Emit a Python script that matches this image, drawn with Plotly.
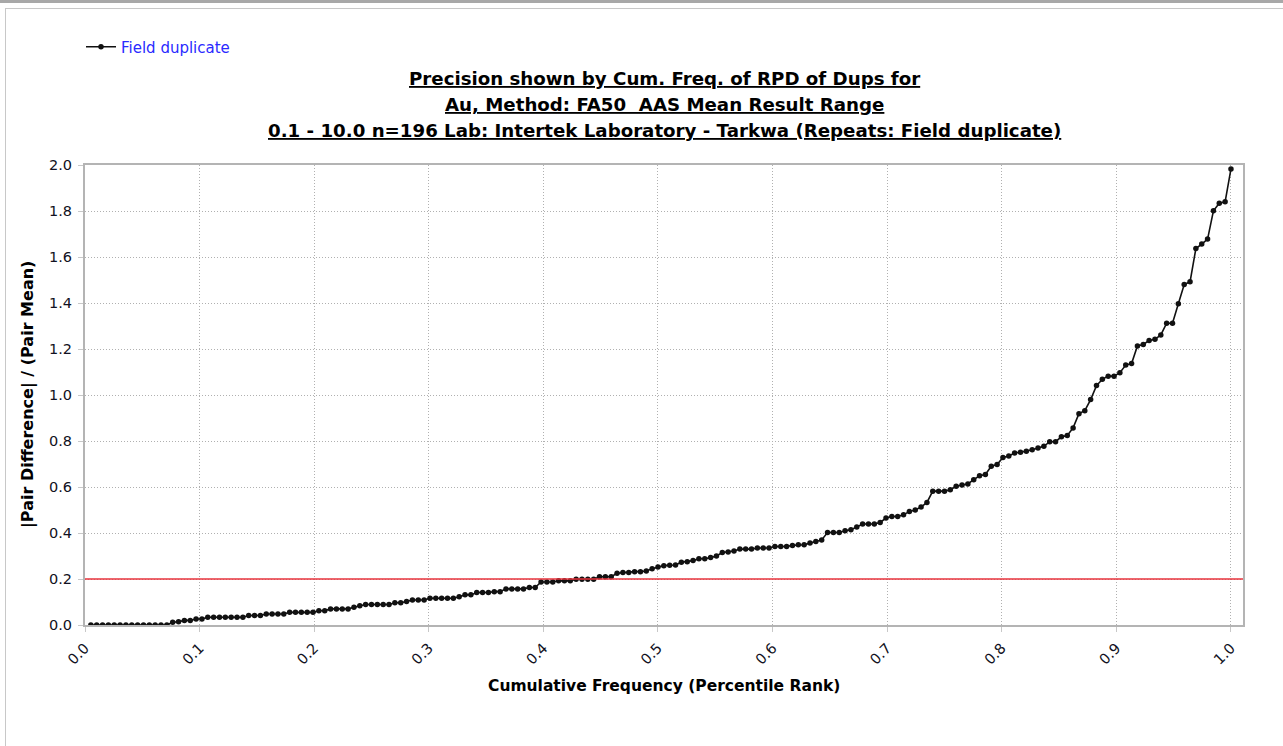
import plotly.graph_objects as go

# ---------------- data ----------------
n_pairs = 196
# sorted |pair difference| / pair mean, one value per duplicate pair (rank 1..196)
rpd_values = [
    # 1-14
    0.0, 0.0, 0.0, 0.0, 0.0, 0.0, 0.0, 0.0, 0.0, 0.0, 0.0, 0.0, 0.0, 0.0,
    # 15-20
    0.012, 0.014, 0.020, 0.020, 0.026, 0.026,
    # 21-27
    0.034, 0.034, 0.034, 0.034, 0.034, 0.034, 0.034,
    # 28-34
    0.041, 0.041, 0.041, 0.048, 0.048, 0.048, 0.048,
    # 35-41
    0.055, 0.055, 0.055, 0.055, 0.055, 0.062, 0.062,
    # 42-47
    0.070, 0.070, 0.070, 0.070, 0.077, 0.084,
    # 48-55
    0.089, 0.089, 0.089, 0.089, 0.089, 0.097, 0.097, 0.102,
    # 56-63
    0.109, 0.109, 0.109, 0.116, 0.116, 0.116, 0.116, 0.116,
    # 64-71
    0.123, 0.131, 0.131, 0.141, 0.141, 0.141, 0.145, 0.145,
    # 72-77
    0.157, 0.157, 0.157, 0.157, 0.163, 0.163,
    # 78-83
    0.187, 0.187, 0.187, 0.192, 0.192, 0.192,
    # 84-90
    0.199, 0.199, 0.199, 0.199, 0.210, 0.210, 0.210,
    # 91-96
    0.225, 0.228, 0.228, 0.232, 0.232, 0.235,
    # 97-104
    0.245, 0.252, 0.258, 0.260, 0.261, 0.273, 0.275, 0.280,
    # 105-111
    0.288, 0.288, 0.293, 0.300, 0.315, 0.317, 0.322,
    # 112-120
    0.330, 0.330, 0.330, 0.335, 0.335, 0.335, 0.341, 0.341, 0.341,
    # 121-126
    0.346, 0.349, 0.349, 0.356, 0.363, 0.370,
    # 127-136
    0.402, 0.402, 0.402, 0.410, 0.414, 0.426, 0.439, 0.439, 0.439, 0.446,
    # 137-144
    0.465, 0.472, 0.472, 0.479, 0.494, 0.500, 0.513, 0.533,
    # 145-154
    0.582, 0.582, 0.582, 0.588, 0.603, 0.609, 0.613, 0.632, 0.649, 0.654,
    # 155-164
    0.690, 0.698, 0.728, 0.735, 0.748, 0.751, 0.755, 0.762, 0.770, 0.777,
    # 165-174
    0.797, 0.797, 0.818, 0.824, 0.857, 0.919, 0.932, 0.980, 1.041, 1.068,
    # 175-184
    1.082, 1.082, 1.097, 1.130, 1.137, 1.213, 1.220, 1.237, 1.242, 1.261,
    # 185-196
    1.312, 1.312, 1.397, 1.480, 1.492, 1.637, 1.656, 1.678, 1.801, 1.834, 1.840, 1.983,
]
# percentile rank of each sorted pair
percentile_rank = [(k + 1) / n_pairs for k in range(len(rpd_values))]

threshold = 0.2
series_name = "Field duplicate"
title_lines = [
    "Precision shown by Cum. Freq. of RPD of Dups for",
    "Au, Method: FA50  AAS Mean Result Range",
    "0.1 - 10.0 n=196 Lab: Intertek Laboratory - Tarkwa (Repeats: Field duplicate)",
]
x_title = "Cumulative Frequency (Percentile Rank)"
y_title = "|Pair Difference| / (Pair Mean)"
x_ticks = [0.0, 0.1, 0.2, 0.3, 0.4, 0.5, 0.6, 0.7, 0.8, 0.9, 1.0]
y_ticks = [0.0, 0.2, 0.4, 0.6, 0.8, 1.0, 1.2, 1.4, 1.6, 1.8, 2.0]

# ---------------- layout helpers (pixel -> paper) ----------------
W, H = 1283, 746
L, R, T, B = 85, 40, 165, 121
PW, PH = W - L - R, H - T - B


def px(xp):
    return (xp - L) / PW


def py(yp):
    return (H - B - yp) / PH


FONT = "DejaVu Sans"

fig = go.Figure()
fig.add_trace(go.Scatter(
    x=percentile_rank, y=rpd_values, mode="lines+markers", name=series_name,
    line=dict(color="#111111", width=1.6),
    marker=dict(color="#111111", size=5.5, symbol="circle"),
))

fig.add_shape(type="line", xref="paper", yref="y", x0=0, x1=1, y0=threshold, y1=threshold,
              line=dict(color="#e8333c", width=1.5))

# outer frame
fig.add_shape(type="line", xref="paper", yref="paper", x0=px(0), x1=px(W), y0=py(1.5), y1=py(1.5),
              line=dict(color="#a8a8a8", width=3))
fig.add_shape(type="line", xref="paper", yref="paper", x0=px(5), x1=px(W), y0=py(8.5), y1=py(8.5),
              line=dict(color="#c8c8c8", width=1))
fig.add_shape(type="line", xref="paper", yref="paper", x0=px(5.5), x1=px(5.5), y0=py(8), y1=py(H),
              line=dict(color="#c8c8c8", width=1))

annotations = []
for txt, ypix in zip(title_lines, [79, 104, 130]):
    annotations.append(dict(text="<b><u>" + txt + "</u></b>", x=0.5, y=py(ypix), xref="paper", yref="paper",
                            xanchor="center", yanchor="middle", showarrow=False,
                            font=dict(family=FONT, size=18.2, color="#000000")))
annotations.append(dict(text="<b>" + x_title + "</b>", x=px(664), y=py(686), xref="paper", yref="paper",
                        xanchor="center", yanchor="middle", showarrow=False,
                        font=dict(family=FONT, size=15.5, color="#000000")))
annotations.append(dict(text="<b>" + y_title + "</b>", x=px(28), y=py(395), xref="paper", yref="paper",
                        xanchor="center", yanchor="middle", showarrow=False, textangle=-90,
                        font=dict(family=FONT, size=16, color="#000000")))

axis_common = dict(
    showgrid=True, gridcolor="#b0b0b0", griddash="1px,2px", gridwidth=1,
    showline=True, linecolor="#b4b4b4", linewidth=2, mirror=True,
    ticks="outside", ticklen=5, tickcolor="#c8c8c8",
    tickfont=dict(family=FONT, size=14.5, color="#111122"),
    zeroline=False, tickformat=".1f",
)

fig.update_layout(
    width=W, height=H,
    margin=dict(l=L, r=R, t=T, b=B),
    paper_bgcolor="white", plot_bgcolor="white",
    xaxis=dict(range=[0, 1.0105], tickvals=x_ticks, tickangle=-45, ticklabelstandoff=2, **axis_common),
    yaxis=dict(range=[0, 2.0], tickvals=y_ticks, ticklabelstandoff=3, **axis_common),
    annotations=annotations,
    showlegend=True,
    legend=dict(x=px(81), y=py(47), xanchor="left", yanchor="middle",
                bgcolor="rgba(0,0,0,0)", font=dict(family=FONT, size=15, color="#2a2aff"),
                itemwidth=30),
)

fig.write_html("out.html", config={"displayModeBar": False},
               post_script="document.body.style.margin='0';document.body.style.overflow='hidden';")
